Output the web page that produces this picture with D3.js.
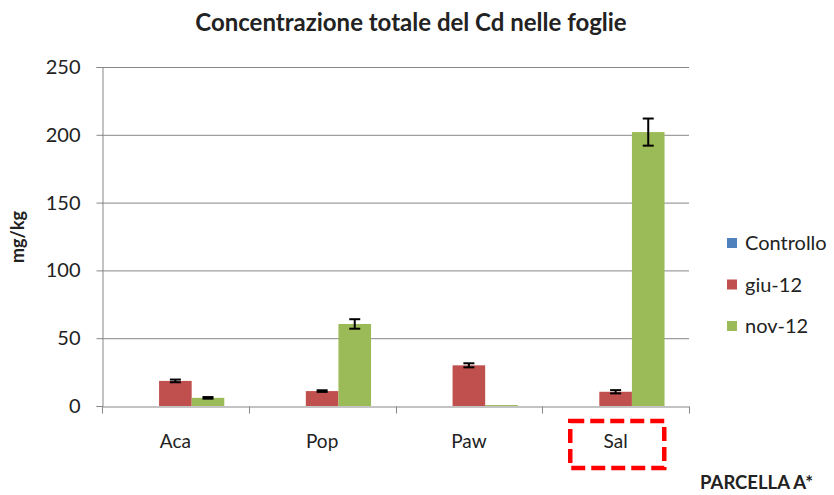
<!DOCTYPE html>
<html>
<head>
<meta charset="utf-8">
<script src="https://cdn.jsdelivr.net/npm/d3@7"></script>
<style>
  body { margin: 0; background: #fff; }
  svg text { font-family: Lato, "Open Sans", sans-serif; fill: #222; }
</style>
</head>
<body>
<div id="chart"></div>
<script>
var categories = ['Aca', 'Pop', 'Paw', 'Sal']
var seriesNames = ['Controllo', 'giu-12', 'nov-12']
var controllo = [0, 0, 0, 0]
var giu12 = [18.5, 11, 30, 10.5]
var nov12 = [6, 60.5, 0.7, 202]
var controlloErr = [0, 0, 0, 0]
var giu12Err = [1, 0.6, 1.5, 1.2]
var nov12Err = [0.6, 3.5, 0, 10]
var yTicks = [0, 50, 100, 150, 200, 250]

var colors = ['#4f81bd', '#c0504d', '#9bbb59']
var values = [controllo, giu12, nov12]
var errors = [controlloErr, giu12Err, nov12Err]

var width = 834, height = 495,
    margins = {top: 67, right: 145, bottom: 89, left: 102}

var svg = d3.select('#chart').append('svg')
    .attr('width', width)
    .attr('height', height)

var x = d3.scaleBand()
    .domain(categories)
    .range([margins.left, width - margins.right])

// excel style gap width 150%
var x1 = d3.scaleBand()
    .domain(seriesNames)
    .range([0, x.bandwidth()])
    .paddingInner(0)
    .paddingOuter(0.75)

var y = d3.scaleLinear()
    .domain([0, 250])
    .range([height - margins.bottom, margins.top])

// gridlines
svg.append('g')
    .selectAll('line')
    .data(yTicks.slice(1))
    .enter().append('line')
    .attr('x1', margins.left)
    .attr('x2', width - margins.right)
    .attr('y1', function(d) { return y(d) + 0.5 })
    .attr('y2', function(d) { return y(d) + 0.5 })
    .attr('stroke', '#878787')
    .attr('stroke-width', 1)

// bars
var rows = []
seriesNames.forEach(function(s, i) {
    categories.forEach(function(c, j) {
        rows.push({series: s, cat: c, value: values[i][j], err: errors[i][j], color: colors[i]})
    })
})

svg.append('g')
    .selectAll('rect')
    .data(rows)
    .enter().append('rect')
    .attr('x', function(d) { return x(d.cat) + x1(d.series) })
    .attr('width', x1.bandwidth())
    .attr('y', function(d) { return y(d.value) })
    .attr('height', function(d) { return y(0) - y(d.value) })
    .attr('fill', function(d) { return d.color })

// error bars
var errGroup = svg.append('g')
    .selectAll('g')
    .data(rows.filter(function(d) { return d.err > 0 }))
    .enter().append('g')
    .attr('stroke', '#000')
    .attr('stroke-width', 2)

errGroup.append('line')
    .attr('x1', function(d) { return x(d.cat) + x1(d.series) + x1.bandwidth() / 2 })
    .attr('x2', function(d) { return x(d.cat) + x1(d.series) + x1.bandwidth() / 2 })
    .attr('y1', function(d) { return y(d.value - d.err) })
    .attr('y2', function(d) { return y(d.value + d.err) })

errGroup.selectAll('.cap')
    .data(function(d) { return [d.value - d.err, d.value + d.err].map(function(v) { return {d: d, v: v} }) })
    .enter().append('line')
    .attr('x1', function(e) { return x(e.d.cat) + x1(e.d.series) + x1.bandwidth() / 2 - 5.5 })
    .attr('x2', function(e) { return x(e.d.cat) + x1(e.d.series) + x1.bandwidth() / 2 + 5.5 })
    .attr('y1', function(e) { return y(e.v) })
    .attr('y2', function(e) { return y(e.v) })

// y axis
var yAxis = svg.append('g')
    .attr('transform', 'translate(' + (margins.left + 0.5) + ',0)')
    .call(d3.axisLeft(y).tickValues(yTicks).tickSize(6).tickPadding(16))
yAxis.select('.domain').attr('stroke', '#878787')
yAxis.selectAll('.tick line').attr('stroke', '#878787')
yAxis.selectAll('.tick text')
    .attr('font-size', 20)
    .attr('font-family', 'Lato, sans-serif')
    .attr('fill', '#222')

// x axis
var xAxis = svg.append('g')
    .attr('transform', 'translate(0,' + (y(0) + 0.5) + ')')
    .call(d3.axisBottom(x).tickSize(0).tickPadding(28))
xAxis.select('.domain').attr('stroke', '#878787')
xAxis.selectAll('.tick text')
    .attr('font-size', 19)
    .attr('font-family', 'Lato, sans-serif')
    .attr('fill', '#222')
xAxis.append('g')
    .selectAll('line')
    .data(categories.concat(['end']))
    .enter().append('line')
    .attr('x1', function(d, i) { return Math.round(margins.left + i * x.step()) + 0.5 })
    .attr('x2', function(d, i) { return Math.round(margins.left + i * x.step()) + 0.5 })
    .attr('y1', 0)
    .attr('y2', 7)
    .attr('stroke', '#878787')

// highlight box around Sal
svg.append('rect')
    .attr('x', x('Sal') + 28)
    .attr('y', y(0) + 15)
    .attr('width', 94)
    .attr('height', 47)
    .attr('fill', 'none')
    .attr('stroke', '#ff0000')
    .attr('stroke-width', 4.5)
    .attr('stroke-dasharray', '14,6')

// title
svg.append('text')
    .attr('x', 411)
    .attr('y', 31)
    .attr('text-anchor', 'middle')
    .attr('font-size', 24)
    .attr('font-weight', 'bold')
    .text('Concentrazione totale del Cd nelle foglie')

// y label
svg.append('text')
    .attr('transform', 'translate(24,237) rotate(-90)')
    .attr('text-anchor', 'middle')
    .attr('font-size', 18)
    .attr('font-weight', 'bold')
    .text('mg/kg')

// x label
svg.append('text')
    .attr('x', 813)
    .attr('y', 489)
    .attr('text-anchor', 'end')
    .attr('font-size', 18.5)
    .attr('font-weight', 'bold')
    .text('PARCELLA A*')

// legend
var legend = svg.append('g')
    .selectAll('g')
    .data(seriesNames)
    .enter().append('g')
    .attr('transform', function(d, i) { return 'translate(727,' + (243 + i * 41.5) + ')' })

legend.append('rect')
    .attr('x', 0)
    .attr('y', -5)
    .attr('width', 10)
    .attr('height', 10)
    .attr('fill', function(d, i) { return colors[i] })

legend.append('text')
    .attr('x', 18)
    .attr('y', 7)
    .attr('font-size', 20)
    .text(function(d) { return d })
</script>
</body>
</html>
